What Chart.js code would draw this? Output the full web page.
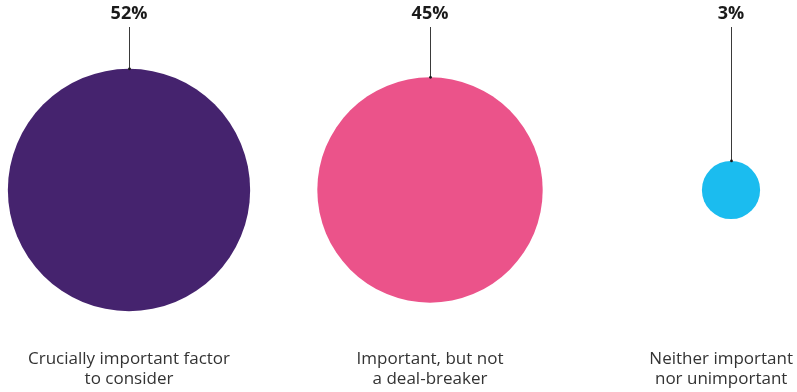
<!DOCTYPE html>
<html>
<head>
<meta charset="utf-8">
<script src="https://cdn.jsdelivr.net/npm/chart.js@4/dist/chart.umd.min.js"></script>
<style>
  html, body { margin: 0; padding: 0; background: #fff; }
  canvas { display: block; }
</style>
</head>
<body>
<canvas id="bubble-chart" width="797" height="392"></canvas>
<script>
const categories = [
    ['Crucially important factor', 'to consider'],
    ['Important, but not', 'a deal-breaker'],
    ['Neither important', 'nor unimportant']
];
const shares = [52, 45, 3];
const colours = ['#45236e', '#eb538a', '#1bbcef'];

// bubble area follows the share, so radius grows with sqrt(value)
const radiusPerRootUnit = 16.8;

const bubbleLabels = {
    id: 'bubbleLabels',
    afterDatasetsDraw(chart) {
        const ctx = chart.ctx;
        const meta = chart.getDatasetMeta(0);
        meta.data.forEach((pt, i) => {
            const r = pt.options.radius;
            const x = Math.round(pt.x) + 0.5;
            const top = pt.y - r;

            ctx.save();
            // leader line from the value down to the bubble
            ctx.strokeStyle = '#3a3a3a';
            ctx.lineWidth = 1;
            ctx.beginPath();
            ctx.moveTo(x, 27);
            ctx.lineTo(x, top);
            ctx.stroke();
            ctx.fillStyle = '#1a1a1a';
            ctx.beginPath();
            ctx.arc(x, top, 1.4, 0, Math.PI * 2);
            ctx.fill();

            ctx.textAlign = 'center';
            ctx.textBaseline = 'middle';
            ctx.font = 'bold 18px "Open Sans"';
            ctx.fillStyle = '#1a1a1a';
            ctx.fillText(shares[i] + '%', pt.x, 14);

            // category caption, kept inside the canvas edge
            ctx.font = '17px "Open Sans"';
            ctx.fillStyle = '#333333';
            const widest = Math.max(...categories[i].map(l => ctx.measureText(l).width));
            const cx = Math.min(pt.x, chart.width - 4 - widest / 2);
            categories[i].forEach((line, j) => {
                ctx.fillText(line, cx, 359 + j * 20);
            });
            ctx.restore();
        });
    }
};

new Chart(document.getElementById('bubble-chart').getContext('2d'), {
    type: 'bubble',
    data: {
        datasets: [{
            data: shares.map((v, i) => ({ x: i, y: 0, r: Math.sqrt(v) * radiusPerRootUnit })),
            backgroundColor: colours,
            borderWidth: 0,
            hoverBorderWidth: 0,
            clip: false
        }]
    },
    options: {
        responsive: false,
        animation: false,
        layout: {
            autoPadding: false,
            padding: { top: 40, bottom: 52, left: 129, right: 66 }
        },
        plugins: {
            legend: { display: false },
            tooltip: { enabled: false }
        },
        scales: {
            x: { type: 'linear', min: 0, max: 2, display: false },
            y: { type: 'linear', min: -1, max: 1, display: false }
        }
    },
    plugins: [bubbleLabels]
});
</script>
</body>
</html>
